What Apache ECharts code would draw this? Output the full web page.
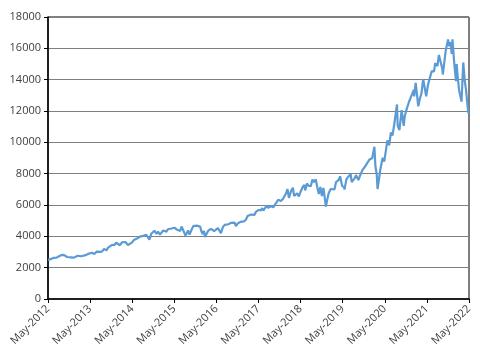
<!DOCTYPE html>
<html>
<head>
<meta charset="utf-8">
<script src="https://cdn.jsdelivr.net/npm/echarts@6/dist/echarts.min.js"></script>
<style>html,body{margin:0;padding:0;background:#fff}#c{width:480px;height:355px}</style>
</head>
<body>
<div id="c"></div>
<script>
// Tick labels
const yTicks = [0, 2000, 4000, 6000, 8000, 10000, 12000, 14000, 16000, 18000];
const xTickLabels = ['May-2012','May-2013','May-2014','May-2015','May-2016','May-2017','May-2018','May-2019','May-2020','May-2021','May-2022'];

// Series: dates and index values
const dates = [
'2012-05-18','2012-06-01','2012-06-15','2012-07-02','2012-07-16','2012-08-01','2012-08-15','2012-09-04','2012-09-19','2012-10-03','2012-10-17','2012-11-01','2012-11-15','2012-12-03','2012-12-17','2012-12-31',
'2013-01-15','2013-02-01','2013-02-15','2013-03-01','2013-03-15','2013-04-01','2013-04-18','2013-05-01','2013-05-15','2013-06-03','2013-06-24','2013-07-15','2013-08-01','2013-08-15','2013-09-03','2013-09-18','2013-10-08','2013-10-22','2013-11-07','2013-11-26','2013-12-13','2013-12-31',
'2014-01-15','2014-02-03','2014-02-20','2014-03-06','2014-03-20','2014-04-11','2014-04-25','2014-05-15','2014-06-02','2014-06-18','2014-07-03','2014-07-24','2014-08-07','2014-08-22','2014-09-05','2014-09-19','2014-10-02','2014-10-15','2014-10-31','2014-11-14','2014-11-28','2014-12-16','2014-12-29',
'2015-01-15','2015-01-30','2015-02-13','2015-02-27','2015-03-11','2015-03-23','2015-04-08','2015-04-24','2015-05-08','2015-05-22','2015-06-09','2015-06-23','2015-07-08','2015-07-20','2015-08-05','2015-08-24','2015-09-04','2015-09-16','2015-09-28','2015-10-16','2015-10-30','2015-11-13','2015-11-30','2015-12-14','2015-12-29',
'2016-01-11','2016-01-20','2016-02-01','2016-02-11','2016-02-26','2016-03-11','2016-03-31','2016-04-14','2016-04-29','2016-05-13','2016-05-31','2016-06-13','2016-06-27','2016-07-14','2016-07-29','2016-08-15','2016-08-31','2016-09-09','2016-09-22','2016-10-07','2016-10-24','2016-11-04','2016-11-18','2016-12-01','2016-12-13','2016-12-30',
'2017-01-13','2017-01-31','2017-02-15','2017-02-28','2017-03-15','2017-03-27','2017-04-13','2017-04-28','2017-05-16','2017-05-31','2017-06-09','2017-06-19','2017-06-29','2017-07-14','2017-07-26','2017-08-10','2017-08-21','2017-09-07','2017-09-25','2017-10-11','2017-10-27','2017-11-08','2017-11-29','2017-12-18',
'2018-01-02','2018-01-12','2018-01-26','2018-02-08','2018-02-27','2018-03-12','2018-03-23','2018-04-02','2018-04-18','2018-05-03','2018-05-18','2018-06-06','2018-06-20','2018-06-28','2018-07-12','2018-07-27','2018-08-15','2018-08-29','2018-09-12','2018-09-28','2018-10-10','2018-10-24','2018-11-07','2018-11-20','2018-12-03','2018-12-14','2018-12-24',
'2019-01-07','2019-01-18','2019-02-05','2019-02-22','2019-03-08','2019-03-21','2019-04-12','2019-04-26','2019-05-13','2019-05-31','2019-06-03','2019-06-20','2019-07-03','2019-07-26','2019-08-05','2019-08-14','2019-08-30','2019-09-12','2019-10-02','2019-10-18','2019-11-05','2019-11-27','2019-12-11','2019-12-27',
'2020-01-08','2020-01-31','2020-02-19','2020-02-28','2020-03-09','2020-03-16','2020-03-23','2020-04-09','2020-04-29','2020-05-13','2020-05-29','2020-06-10','2020-06-26','2020-07-10','2020-07-24','2020-08-12','2020-09-02','2020-09-08','2020-09-23','2020-10-12','2020-10-30','2020-11-09','2020-11-25','2020-12-15','2020-12-31',
'2021-01-14','2021-01-26','2021-01-29','2021-02-12','2021-03-04','2021-03-18','2021-03-31','2021-04-16','2021-05-12','2021-05-28','2021-06-14','2021-06-30','2021-07-19','2021-07-29','2021-08-18','2021-08-31','2021-09-07','2021-09-30','2021-10-04','2021-10-29','2021-11-19','2021-11-30','2021-12-10','2021-12-20','2021-12-27',
'2022-01-10','2022-01-27','2022-02-02','2022-02-11','2022-02-24','2022-03-14','2022-03-29','2022-04-12','2022-04-22','2022-05-03','2022-05-11','2022-05-18'
];
const values = [
2500,2460,2560,2620,2590,2640,2760,2780,2860,2820,2760,2680,2560,2660,2680,2640,
2720,2760,2770,2730,2810,2780,2750,2880,3000,2950,2870,3030,3070,3010,3050,3200,3100,3280,3310,3460,3430,3590,
3600,3430,3620,3700,3640,3450,3520,3600,3760,3820,3880,3980,3880,4030,4080,4090,3990,3780,4160,4250,4360,4150,4300,
4110,4150,4370,4440,4300,4450,4350,4500,4470,4550,4430,4550,4340,4630,4560,4050,4200,4380,4110,4420,4650,4550,4680,4560,4620,
4300,4150,4350,3950,4200,4380,4480,4520,4340,4340,4520,4420,4200,4600,4730,4800,4770,4690,4860,4830,4880,4650,4800,4690,4920,4860,
4950,5070,5300,5330,5390,5320,5370,5580,5680,5790,5660,5800,5650,5800,5970,5820,5820,5920,5850,6050,6160,6340,6250,6400,
6500,6720,7020,6450,6900,7100,6570,6450,6750,6550,6850,7150,7280,6930,7370,7230,7200,7620,7460,7630,7150,6700,7150,6570,7090,6480,5900,
6380,6750,7020,7060,7000,7460,7580,7830,7220,7130,6980,7650,7780,7980,7460,7420,7700,7910,7590,7900,8210,8440,8400,8780,
8910,9000,9720,8460,7950,7020,7000,8230,9000,8770,9550,10130,9800,10630,10430,11330,12420,11070,10780,12050,11050,11700,12120,12590,12890,
12840,13350,12930,13800,12300,12800,13090,14040,12940,13690,14130,14550,14520,15050,14860,15580,15650,14690,14330,15850,16570,16130,16400,15650,16570,
15200,13900,15000,14200,13300,12600,15100,13900,13400,13450,11930,11830
];

function monthIndex(s) {
  const [y, m, d] = s.split('-').map(Number);
  return (y - 2012) * 12 + (m - 5) + (d - 18) / 30.44;
}
const seriesData = dates.map((d, i) => [monthIndex(d), values[i]]);

const chart = echarts.init(document.getElementById('c'), null, {renderer: 'canvas'});
const font = '"Open Sans", "DejaVu Sans", sans-serif';
chart.setOption({
  animation: false,
  backgroundColor: '#fff',
  grid: {left: 48, right: 11, top: 17, bottom: 56, show: true, borderColor: '#000', borderWidth: 1, containLabel: false},
  xAxis: {
    type: 'value', min: 0, max: 120, interval: 12,
    axisLine: {show: true, onZero: false, lineStyle: {color: '#000', width: 1.5}},
    axisTick: {show: true, length: 4, lineStyle: {color: '#000', width: 1}},
    splitLine: {show: false},
    axisLabel: {
      rotate: 45, margin: 8, fontSize: 11, color: '#404040', fontFamily: font,
      formatter: v => xTickLabels[Math.round(v / 12)] || ''
    }
  },
  yAxis: {
    type: 'value', min: yTicks[0], max: yTicks[yTicks.length - 1], interval: 2000,
    axisLine: {show: true, lineStyle: {color: '#000', width: 1.5}},
    axisTick: {show: true, length: 4, lineStyle: {color: '#000', width: 1}},
    splitLine: {show: true, lineStyle: {color: '#7f7f7f', width: 1}},
    axisLabel: {margin: 7, fontSize: 11, color: '#404040', fontFamily: font, formatter: v => String(v)}
  },
  series: [{
    type: 'line', data: seriesData, showSymbol: false, symbol: 'none',
    lineStyle: {color: '#5b9bd5', width: 2.2}, z: 3
  }]
});
</script>
</body>
</html>
